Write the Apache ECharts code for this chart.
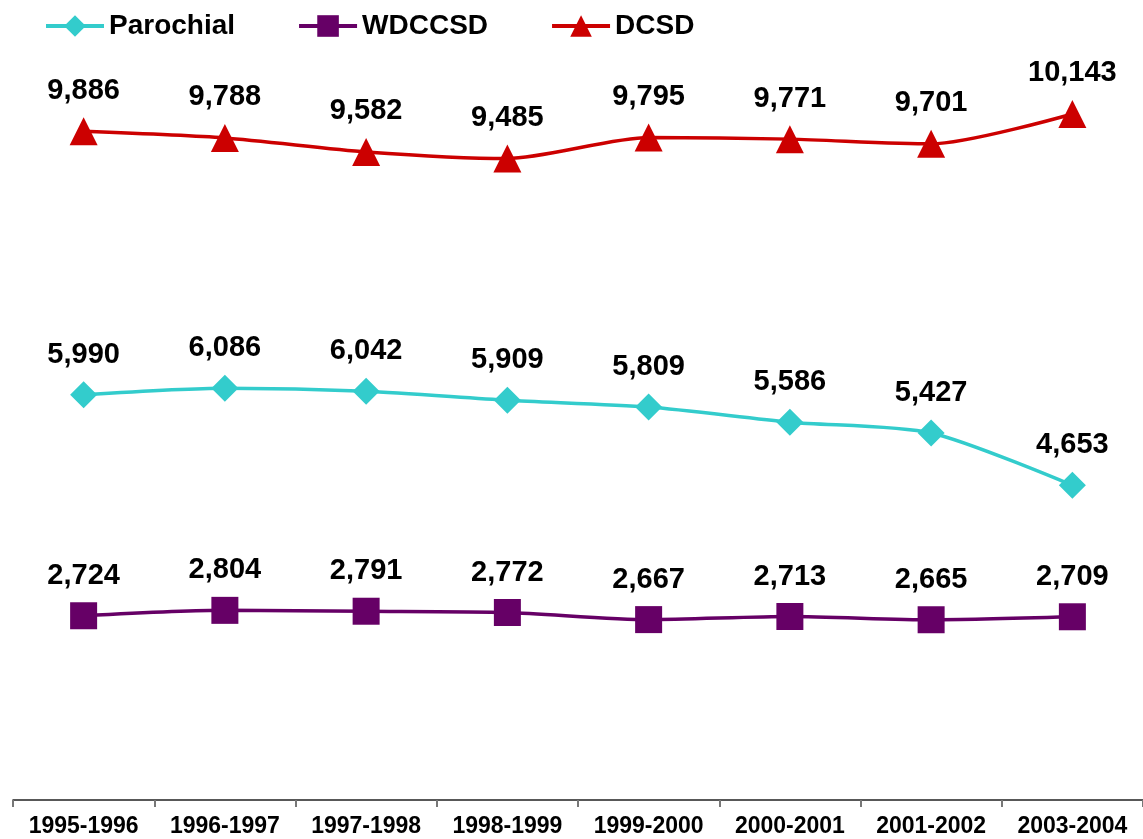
<!DOCTYPE html>
<html>
<head>
<meta charset="utf-8">
<style>
  html, body { margin: 0; padding: 0; background: #fff; }
  #chart { width: 1143px; height: 839px; }
</style>
<script src="https://cdn.jsdelivr.net/npm/echarts@6/dist/echarts.min.js"></script>
</head>
<body>
<div id="chart"></div>
<script>
// School years on the category axis
const years = ['1995-1996', '1996-1997', '1997-1998', '1998-1999',
               '1999-2000', '2000-2001', '2001-2002', '2003-2004'];

// Enrollment by school system
const parochial = [5990, 6086, 6042, 5909, 5809, 5586, 5427, 4653];
const wdccsd    = [2724, 2804, 2791, 2772, 2667, 2713, 2665, 2709];
const dcsd      = [9886, 9788, 9582, 9485, 9795, 9771, 9701, 10143];

const FONT = '"Liberation Sans", Arial, sans-serif';

function lineSeries(name, data, color, symbol, size) {
  return {
    name: name,
    type: 'line',
    data: data,
    smooth: 0.25,
    symbol: symbol,
    symbolSize: size,
    lineStyle: { color: color, width: 3.5 },
    itemStyle: { color: color },
    label: {
      show: true,
      position: 'top',
      distance: 12,
      color: '#000',
      fontFamily: FONT,
      fontWeight: 'bold',
      fontSize: 29,
      formatter: p => p.value.toLocaleString('en-US')
    },
    emphasis: { disabled: true }
  };
}

const chart = echarts.init(document.getElementById('chart'), null, { renderer: 'canvas' });
chart.setOption({
  animation: false,
  backgroundColor: '#fff',
  legend: {
    left: 39,
    top: 7,
    itemWidth: 58,
    itemHeight: 27,
    itemGap: 62,
    lineStyle: { width: 4 },
    textStyle: { color: '#000', fontFamily: FONT, fontWeight: 'bold', fontSize: 28 },
    data: ['Parochial', 'WDCCSD', 'DCSD']
  },
  grid: { left: 13, right: -5, top: 56, bottom: 39 },
  xAxis: {
    type: 'category',
    data: years,
    boundaryGap: true,
    axisLine: { lineStyle: { color: '#222', width: 1.5 } },
    axisTick: { show: true, length: 7, lineStyle: { color: '#777', width: 2 } },
    axisLabel: {
      color: '#000', fontFamily: FONT, fontWeight: 'bold', fontSize: 23,
      margin: 15, interval: 0
    }
  },
  yAxis: {
    type: 'value',
    min: 0,
    max: 11000,
    show: false,
    splitLine: { show: false }
  },
  series: [
    lineSeries('Parochial', parochial, '#33CCCC', 'diamond', 27),
    lineSeries('WDCCSD', wdccsd, '#660066', 'rect', 27),
    lineSeries('DCSD', dcsd, '#CC0000', 'triangle', 28)
  ]
});
</script>
</body>
</html>
